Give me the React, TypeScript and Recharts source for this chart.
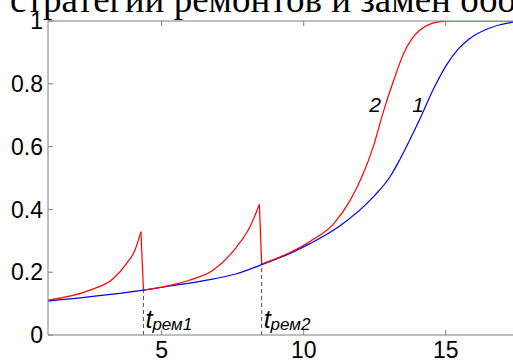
import { LineChart, Line, XAxis, YAxis, ReferenceLine, ReferenceDot } from 'recharts'

// curve 1 (blue) - without repairs
const curve1 = [
  { t: 1, p: 0.108 }, { t: 2.5, p: 0.122 }, { t: 4.36, p: 0.143 }, { t: 5.3, p: 0.156 },
  { t: 6.5, p: 0.173 }, { t: 7.64, p: 0.195 }, { t: 8.52, p: 0.224 }, { t: 9.52, p: 0.26 },
  { t: 10.22, p: 0.291 }, { t: 11.28, p: 0.348 }, { t: 12.45, p: 0.44 }, { t: 13.04, p: 0.504 },
  { t: 13.39, p: 0.56 }, { t: 13.75, p: 0.624 }, { t: 14.1, p: 0.69 }, { t: 14.55, p: 0.78 },
  { t: 15.04, p: 0.862 }, { t: 15.45, p: 0.912 }, { t: 15.86, p: 0.945 }, { t: 16.5, p: 0.976 },
  { t: 17.27, p: 0.995 }, { t: 18, p: 1 },
]

// curve 2 (red) - with repairs, split at the repair moments
const curve2a = [
  { t: 1, p: 0.111 }, { t: 2.48, p: 0.143 }, { t: 3.3, p: 0.18 }, { t: 3.77, p: 0.228 },
  { t: 4.06, p: 0.27 }, { t: 4.27, p: 0.329 },
]
const drop1 = [{ t: 4.27, p: 0.329 }, { t: 4.36, p: 0.143 }]
const curve2b = [
  { t: 4.36, p: 0.143 }, { t: 5.3, p: 0.158 }, { t: 6.0, p: 0.175 }, { t: 6.82, p: 0.207 },
  { t: 7.64, p: 0.281 }, { t: 8.11, p: 0.345 }, { t: 8.44, p: 0.416 },
]
const drop2 = [{ t: 8.44, p: 0.416 }, { t: 8.52, p: 0.226 }]
const curve2c = [
  { t: 8.52, p: 0.226 }, { t: 9.52, p: 0.263 }, { t: 10.22, p: 0.298 }, { t: 11.05, p: 0.354 },
  { t: 11.63, p: 0.428 }, { t: 12.1, p: 0.515 }, { t: 12.45, p: 0.6 }, { t: 12.8, p: 0.71 },
  { t: 13.2, p: 0.82 }, { t: 13.51, p: 0.895 }, { t: 14.1, p: 0.972 }, { t: 14.8, p: 0.998 },
  { t: 15.2, p: 1 }, { t: 18, p: 1 },
]

const repairs = [
  { t: 4.36, p: 0.143, name: 'рем1' },
  { t: 8.52, p: 0.226, name: 'рем2' },
]

const xTicks = [5, 10, 15]
const yTicks = [0, 0.2, 0.4, 0.6, 0.8, 1]
const title = 'стратегии ремонтов и замен оборудования'

const AXIS = '#7f7f7f'
const FONT = 'Liberation Sans, Arial, sans-serif'

const RemLabel = (props: any) => {
  const { viewBox, name } = props
  const x = viewBox.x + 2
  const y = viewBox.y - 7
  return (
    <text x={x} y={y} fontFamily={FONT} fontStyle="italic" fill="#000">
      <tspan fontSize={25}>t</tspan>
      <tspan fontSize={17} dy={2}>{name}</tspan>
    </text>
  )
}

const CurveLabel = (props: any) => {
  const { viewBox, text } = props
  return (
    <text x={viewBox.x} y={viewBox.y + 7} textAnchor="middle" fontFamily={FONT}
      fontStyle="italic" fontSize={21} fill="#000">{text}</text>
  )
}

const App = () => {
  return (
    <div style={{ position: 'absolute', left: 0, top: 0, width: 513, height: 362, overflow: 'hidden', background: '#fff' }}>
      <LineChart width={540} height={362} margin={{ top: 20, right: 9, left: 0, bottom: 0 }}>
        <XAxis dataKey="t" type="number" domain={[1, 18]} allowDataOverflow ticks={xTicks}
          tickSize={-5} tickMargin={12} stroke={AXIS} height={27}
          tick={{ fill: '#000', fontSize: 23, fontFamily: FONT }} />
        <XAxis xAxisId="top" orientation="top" dataKey="t" type="number" domain={[1, 18]}
          allowDataOverflow ticks={xTicks} tickSize={-5} stroke={AXIS} height={1}
          tick={() => <g />} />
        <YAxis dataKey="p" type="number" domain={[0, 1]} ticks={yTicks} width={48}
          tickSize={-5} tickMargin={10} stroke={AXIS} allowDataOverflow
          tick={{ fill: '#000', fontSize: 23, fontFamily: FONT }} />
        {repairs.map((r) => (
          <ReferenceLine key={r.name} segment={[{ x: r.t, y: 0 }, { x: r.t, y: r.p }]}
            stroke="#555" strokeDasharray="4 3" />
        ))}
        <Line data={curve1} dataKey="p" type="monotone" stroke="#0000ff" strokeWidth={1.2} dot={false} isAnimationActive={false} />
        <Line data={curve2a} dataKey="p" type="monotone" stroke="#ff0000" strokeWidth={1.2} dot={false} isAnimationActive={false} />
        <Line data={drop1} dataKey="p" type="linear" stroke="#ff0000" strokeWidth={1.2} dot={false} isAnimationActive={false} />
        <Line data={curve2b} dataKey="p" type="monotone" stroke="#ff0000" strokeWidth={1.2} dot={false} isAnimationActive={false} />
        <Line data={drop2} dataKey="p" type="linear" stroke="#ff0000" strokeWidth={1.2} dot={false} isAnimationActive={false} />
        <Line data={curve2c} dataKey="p" type="monotone" stroke="#ff0000" strokeWidth={1.2} dot={false} isAnimationActive={false} />
        {repairs.map((r) => (
          <ReferenceDot key={'l' + r.name} x={r.t} y={0} r={0} fill="none" stroke="none"
            label={(p: any) => <RemLabel {...p} name={r.name} />} />
        ))}
        <ReferenceDot x={12.51} y={0.732} r={0} fill="none" stroke="none"
          label={(p: any) => <CurveLabel {...p} text="2" />} />
        <ReferenceDot x={14.03} y={0.732} r={0} fill="none" stroke="none"
          label={(p: any) => <CurveLabel {...p} text="1" />} />
      </LineChart>
      <svg width={513} height={40} style={{ position: 'absolute', left: 0, top: 0 }}>
        <text x={10} y={12} fontFamily="Liberation Serif, Times New Roman, serif" fontSize={37} fill="#000">{title}</text>
      </svg>
    </div>
  )
}

export default App
